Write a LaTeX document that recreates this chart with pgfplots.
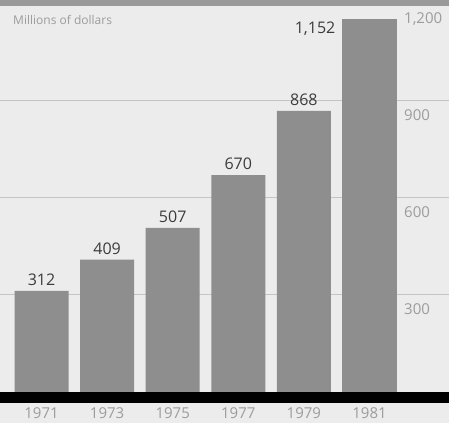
\documentclass[border=0pt]{standalone}
\usepackage{pgfplots}
\pgfplotsset{compat=1.18}
\usepackage{fontspec}
\setmainfont{Open Sans}
\definecolor{bg}{HTML}{ECECEC}
\definecolor{barc}{HTML}{8E8E8E}
\definecolor{gridc}{HTML}{C4C4C4}
\definecolor{lab}{HTML}{9C9C9C}
\definecolor{val}{HTML}{3C3C3C}
\definecolor{topb}{HTML}{9A9A9A}
\begin{document}
\begin{tikzpicture}
\begin{axis}[
 scale only axis, width=449pt, height=423pt,
 xmin=-0.633, xmax=6.212, ymin=-95.7, ymax=1210.6,
 axis line style={draw=none},
 axis background/.style={fill=bg},
 ybar, bar width=54pt, bar shift=0pt,
 xtick={0,...,5}, xticklabels={1971,1973,1975,1977,1979,1981},
 ytick={300,600,900,1200},
 ymajorgrids, grid style={gridc, line width=0.8pt},
 major tick length=0pt,
 yticklabel pos=right,
 ticklabel style={font=\fontsize{15}{17}\selectfont, text=lab, inner sep=0pt},
 xticklabel style={anchor=center, yshift=10pt},
 yticklabel style={anchor=north west, xshift=-45pt, yshift=-9pt},
 /pgf/number format/assume math mode=true,
 clip=false,
]
\addplot[fill=barc, draw=none, nodes near coords,
  every node near coord/.append style={font=\fontsize{16}{18}\selectfont, text=val, inner sep=0pt, anchor=south, yshift=5pt}]
  coordinates {(0,312) (1,409) (2,507) (3,670) (4,868)};
\addplot[fill=barc, draw=none, nodes near coords,
  every node near coord/.append style={font=\fontsize{16}{18}\selectfont, text=val, inner sep=0pt, anchor=north east, xshift=-34pt, yshift=-3pt}]
  coordinates {(5,1152)};
\fill[black] (axis cs:-0.633,-34) rectangle (axis cs:6.212,0);
\fill[topb] (axis cs:-0.633,1192) rectangle (axis cs:6.212,1210.6);
\node[anchor=north west, font=\fontsize{12}{14}\selectfont, text=lab, inner sep=0pt, xshift=13pt, yshift=-15pt] at (axis cs:-0.633,1210.6) {Millions of dollars};
\end{axis}
\pgfresetboundingbox
\useasboundingbox (current axis.south west) rectangle (current axis.north east);
\end{tikzpicture}
\end{document}
